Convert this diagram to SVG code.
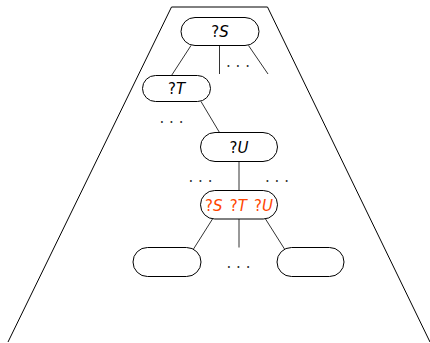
<svg xmlns="http://www.w3.org/2000/svg" width="430" height="343" viewBox="0 0 430 343">
<style>
.node{fill:#fff;stroke:#000;stroke-width:1}
.edge{stroke:#333;stroke-width:1;fill:none}
.frame{stroke:#000;stroke-width:1;fill:none}
.lbl{font-family:"DejaVu Sans",sans-serif;font-size:15px;text-anchor:middle;fill:#000}
.v{font-style:italic}
.red{fill:#ff4500;word-spacing:2.5px}
.dots{font-family:"DejaVu Sans",sans-serif;font-size:15px;text-anchor:middle;fill:#333}
</style>
<rect width="430" height="343" fill="#fff"/>
<path class="frame" d="M8,342 L171.5,7 L267.5,7 L430,342"/>
<g id="connectors">
<line class="edge" x1="191" y1="45.5" x2="171.5" y2="75.5"/>
<line class="edge" x1="219.5" y1="45.5" x2="219.5" y2="74"/>
<line class="edge" x1="248.5" y1="45.5" x2="268" y2="74"/>
<line class="edge" x1="201" y1="101.5" x2="219.5" y2="132.5"/>
<line class="edge" x1="239" y1="161.5" x2="239" y2="190.5"/>
<line class="edge" x1="212.5" y1="219" x2="193.5" y2="249"/>
<line class="edge" x1="239" y1="219" x2="239" y2="247.5"/>
<line class="edge" x1="265.5" y1="219" x2="284.5" y2="249"/>
</g>
<g id="dots">
<text class="dots" x="238" y="67">. . .</text>
<text class="dots" x="171.5" y="123">. . .</text>
<text class="dots" x="200.5" y="182">. . .</text>
<text class="dots" x="277" y="182">. . .</text>
<text class="dots" x="238.5" y="268">. . .</text>
</g>
<g id="nS">
<rect class="node" x="181" y="17.5" width="78" height="28" rx="14"/>
<text class="lbl" x="220" y="37">?<tspan class="v">S</tspan></text>
</g>
<g id="nT">
<rect class="node" x="142.5" y="75.5" width="68" height="26" rx="13"/>
<text class="lbl" x="176.5" y="94">?<tspan class="v">T</tspan></text>
</g>
<g id="nU">
<rect class="node" x="200.5" y="132.5" width="77" height="29" rx="14.5"/>
<text class="lbl" x="239" y="152.5">?<tspan class="v">U</tspan></text>
</g>
<g id="nSTU">
<rect class="node" x="200.5" y="190.5" width="77" height="28.5" rx="14.25"/>
<text class="lbl red" x="239" y="210.5">?<tspan class="v">S</tspan> ?<tspan class="v">T</tspan> ?<tspan class="v">U</tspan></text>
</g>
<g id="nL">
<rect class="node" x="133" y="247.5" width="68" height="29" rx="14.5"/>
</g>
<g id="nR">
<rect class="node" x="277" y="247.5" width="67" height="29" rx="14.5"/>
</g>
</svg>
